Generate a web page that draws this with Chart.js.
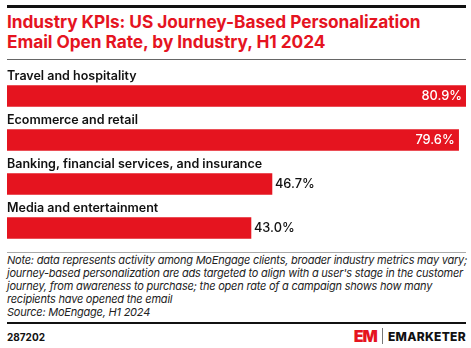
<!DOCTYPE html>
<html>
<head>
<meta charset="utf-8">
<script src="https://cdn.jsdelivr.net/npm/chart.js@4.4.1/dist/chart.umd.min.js"></script>
<style>
  html, body { margin:0; padding:0; background:#fff; }
  body { width:471px; height:348px; position:relative; overflow:hidden; font-family:Inter, "Noto Sans", sans-serif; }
  .rule { position:absolute; left:7px; width:459px; }
  #title { position:absolute; left:7px; top:12px; width:464px; color:#e5141f; font-weight:700;
           font-size:17.3px; line-height:20px; letter-spacing:-0.05px; white-space:nowrap; }
  #chartBox { position:absolute; left:0; top:62px; width:471px; height:188px; }
  #note { position:absolute; left:7px; top:254px; width:464px; font-style:italic; font-size:11px;
          line-height:13px; color:#222; letter-spacing:-0.22px; white-space:nowrap; }
  #id { position:absolute; left:7px; top:331px; font-size:10px; font-weight:700; color:#111; }
  #logo { position:absolute; right:5px; top:328px; height:16px; display:flex; align-items:center; }
  #logo .em { color:#e5141f; font-weight:900; font-size:16px; letter-spacing:-1px; }
  #logo .sep { width:1px; height:16px; background:#777; margin:0 5px 0 5px; }
  #logo .name { font-weight:800; font-size:12px; color:#111; letter-spacing:0.3px; }
</style>
</head>
<body>
<div class="rule" style="top:5px;height:2.5px;background:#111"></div>
<div id="title">Industry KPIs: US Journey-Based Personalization<br>Email Open Rate, by Industry, H1 2024</div>
<div class="rule" style="top:59px;height:1.3px;background:#666"></div>
<div id="chartBox"><canvas id="chart"></canvas></div>
<div class="rule" style="top:251.5px;height:1.5px;background:#aaa"></div>
<div id="note">Note: data represents activity among MoEngage clients, broader industry metrics may vary;<br>journey-based personalization are ads targeted to align with a user's stage in the customer<br>journey, from awareness to purchase; the open rate of a campaign shows how many<br>recipients have opened the email<br>Source: MoEngage, H1 2024</div>
<div class="rule" style="top:321.5px;height:2.5px;background:#111"></div>
<div id="id">287202</div>
<div id="logo"><span class="em">EM</span><span class="sep"></span><span class="name">EMARKETER</span></div>

<script>
var categories = ['Travel and hospitality', 'Ecommerce and retail',
                  'Banking, financial services, and insurance', 'Media and entertainment'];
var openRate = [80.9, 79.6, 46.7, 43.0];

var red = '#e5141f';

// category names above bars, values at bar ends
var barLabels = {
    id: 'barLabels',
    afterDatasetsDraw: function (chart) {
        var ctx = chart.ctx;
        var meta = chart.getDatasetMeta(0);
        var left = chart.chartArea.left;
        ctx.save();
        meta.data.forEach(function (bar, i) {
            var top = bar.y - bar.height / 2;
            ctx.fillStyle = '#111';
            ctx.font = '600 12.5px Inter, "Noto Sans", sans-serif';
            ctx.textAlign = 'left';
            ctx.textBaseline = 'alphabetic';
            ctx.fillText(categories[i], left, top - 5.5);

            var txt = openRate[i].toFixed(1) + '%';
            ctx.font = '500 12.8px Inter, "Noto Sans", sans-serif';
            ctx.textBaseline = 'middle';
            var w = ctx.measureText(txt).width;
            var room = chart.chartArea.right - bar.x;
            if (room < w + 10) {
                ctx.fillStyle = '#fff';
                ctx.textAlign = 'right';
                ctx.fillText(txt, bar.x - 4, bar.y + 0.5);
            } else {
                ctx.fillStyle = '#111';
                ctx.textAlign = 'left';
                ctx.fillText(txt, bar.x + 3, bar.y + 0.5);
            }
        });
        ctx.restore();
    }
};

new Chart(document.getElementById('chart'), {
    type: 'bar',
    data: { labels: categories,
            datasets: [{ data: openRate, backgroundColor: red, borderWidth: 0,
                         barThickness: 21 }] },
    options: {
        indexAxis: 'y', responsive: true, maintainAspectRatio: false, animation: false,
        layout: { padding: { left: 7, right: 5, top: 12, bottom: 0 } },
        plugins: { legend: { display: false }, tooltip: { enabled: false } },
        scales: {
            x: { display: false, min: 0, max: 80.9 },
            y: { display: false }
        }
    },
    plugins: [barLabels]
});
</script>
</body>
</html>
